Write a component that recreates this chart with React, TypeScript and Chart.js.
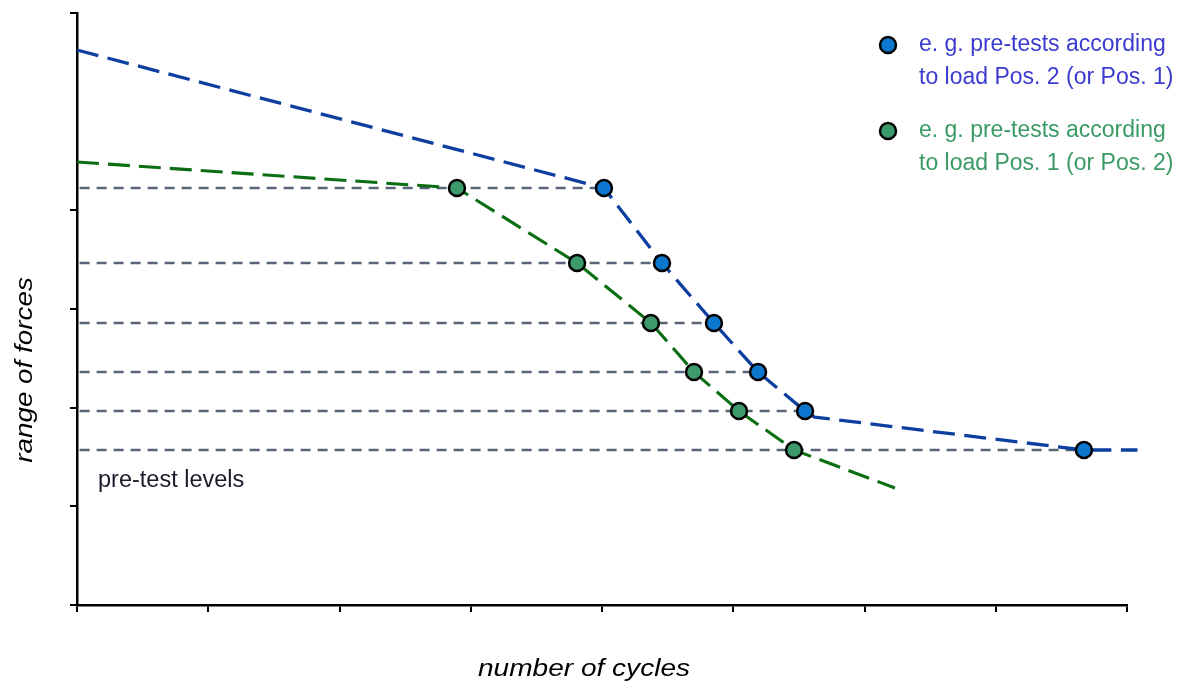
import React, { useEffect, useRef } from "react";
import { Chart, registerables } from "chart.js";

Chart.register(...registerables);

// pre-test force levels (y, arbitrary units)
const levels = [4.226, 3.466, 2.858, 2.361, 1.966, 1.571];
// pre-test positions (x, number of cycles, arbitrary units)
const blueX = [4.015, 4.457, 4.853, 5.189, 5.547, 7.672];
const greenX = [2.895, 3.81, 4.373, 4.701, 5.044, 5.463];
// dashed curve vertices
const blueCurveX = [0, 4.015, 4.457, 4.853, 5.189, 5.547, 5.62, 7.672, 8.08];
const blueCurveY = [5.625, 4.226, 3.466, 2.858, 2.361, 1.966, 1.905, 1.571, 1.571];
const greenCurveX = [0, 2.895, 3.81, 4.373, 4.701, 5.044, 5.463, 6.232];
const greenCurveY = [4.49, 4.226, 3.466, 2.858, 2.361, 1.966, 1.571, 1.186];
// level line end (reaches the blue pre-test point)
const levelEndX = blueX;

const legendLabels = [
  ["e. g. pre-tests according", "to load Pos. 2 (or Pos. 1)"],
  ["e. g. pre-tests according", "to load Pos. 1 (or Pos. 2)"],
];
const xTitle = "number of cycles";
const yTitle = "range of forces";
const levelNote = "pre-test levels";

const BLUE_LINE = "#0d3fa0";
const GREEN_LINE = "#0b6e12";
const BLUE_FILL = "#0b77cf";
const GREEN_FILL = "#3d9a6b";
const GREY = "#5a6478";
const FONT = "'Liberation Sans', Arial, sans-serif";

const textPlugin = {
  id: "texts",
  afterDraw(chart: any) {
    const ctx = chart.ctx as CanvasRenderingContext2D;
    ctx.save();
    // legend
    const markerY = [45, 131];
    const textColors = ["#3b3bcf", "#3a9a66"];
    const fills = [BLUE_FILL, GREEN_FILL];
    for (let i = 0; i < 2; i++) {
      ctx.beginPath();
      ctx.arc(888, markerY[i], 8, 0, Math.PI * 2);
      ctx.fillStyle = fills[i];
      ctx.fill();
      ctx.lineWidth = 2.5;
      ctx.strokeStyle = "#000";
      ctx.stroke();
      ctx.fillStyle = textColors[i];
      ctx.font = `23px ${FONT}`;
      ctx.textAlign = "left";
      ctx.textBaseline = "middle";
      ctx.fillText(legendLabels[i][0], 919, markerY[i]);
      ctx.fillText(legendLabels[i][1], 919, markerY[i] + 33);
    }
    // pre-test note
    ctx.fillStyle = "#1a1a2a";
    ctx.font = `23.5px ${FONT}`;
    ctx.textAlign = "left";
    ctx.textBaseline = "middle";
    ctx.fillText(levelNote, 98, 481);
    // x title
    ctx.fillStyle = "#000";
    ctx.font = `italic 23px ${FONT}`;
    ctx.textAlign = "center";
    ctx.textBaseline = "alphabetic";
    ctx.save();
    ctx.translate(584, 676);
    ctx.scale(1.22, 1);
    ctx.fillText(xTitle, 0, 0);
    ctx.restore();
    // y title
    ctx.save();
    ctx.translate(32, 370);
    ctx.rotate(-Math.PI / 2);
    ctx.scale(1.21, 1);
    ctx.fillText(yTitle, 0, 0);
    ctx.restore();
    ctx.restore();
  },
};

export default function App() {
  const ref = useRef<HTMLCanvasElement>(null);
  useEffect(() => {
    document.body.style.margin = "0";
    const levelSets = levels.map((lv, i) => ({
      data: [
        { x: 0.02, y: lv },
        { x: levelEndX[i], y: lv },
      ],
      borderColor: GREY,
      borderWidth: 2.5,
      borderDash: [10, 7],
      pointRadius: 0,
      order: 3,
    }));
    const chart = new Chart(ref.current!, {
      type: "line",
      data: {
        datasets: [
          ...levelSets,
          {
            data: blueCurveX.map((x, i) => ({ x, y: blueCurveY[i] })),
            borderColor: BLUE_LINE,
            borderWidth: 3.3,
            borderDash: [22, 9.5],
            pointRadius: 0,
            clip: false,
            order: 2,
          },
          {
            data: greenCurveX.map((x, i) => ({ x, y: greenCurveY[i] })),
            borderColor: GREEN_LINE,
            borderWidth: 3.1,
            borderDash: [22, 9],
            pointRadius: 0,
            order: 2,
          },
          {
            data: blueX.map((x, i) => ({ x, y: levels[i] })),
            showLine: false,
            pointRadius: 8,
            pointBackgroundColor: BLUE_FILL,
            pointBorderColor: "#000",
            pointBorderWidth: 2.5,
            clip: false,
            order: 1,
          },
          {
            data: greenX.map((x, i) => ({ x, y: levels[i] })),
            showLine: false,
            pointRadius: 8,
            pointBackgroundColor: GREEN_FILL,
            pointBorderColor: "#000",
            pointBorderWidth: 2.5,
            clip: false,
            order: 1,
          },
        ] as any,
      },
      options: {
        animation: false,
        responsive: false,
        maintainAspectRatio: false,
        layout: { padding: { left: 70, right: 61, top: 13, bottom: 72 } },
        plugins: { legend: { display: false }, tooltip: { enabled: false } },
        events: [],
        scales: {
          x: {
            type: "linear",
            min: 0,
            max: 8,
            ticks: { display: false, stepSize: 1 },
            grid: {
              drawOnChartArea: false,
              drawTicks: true,
              tickLength: 7,
              color: "#000",
              lineWidth: 2,
            },
            border: { display: true, color: "#000", width: 2.5 },
            afterFit: (s: any) => {
              s.height = 7;
            },
          },
          y: {
            type: "linear",
            min: 0,
            max: 6,
            ticks: { display: false, stepSize: 1 },
            grid: {
              drawOnChartArea: false,
              drawTicks: true,
              tickLength: 7,
              color: (c: any) => (c.tick && c.tick.value === 5 ? "rgba(0,0,0,0)" : "#000"),
              lineWidth: 2,
            },
            border: { display: true, color: "#000", width: 2.5 },
            afterFit: (s: any) => {
              s.width = 7;
            },
          },
        },
      },
      plugins: [textPlugin],
    });
    return () => chart.destroy();
  }, []);
  return (
    <div style={{ width: 1188, height: 684, background: "#fff" }}>
      <canvas ref={ref} width={1188} height={684} style={{ display: "block" }} />
    </div>
  );
}
